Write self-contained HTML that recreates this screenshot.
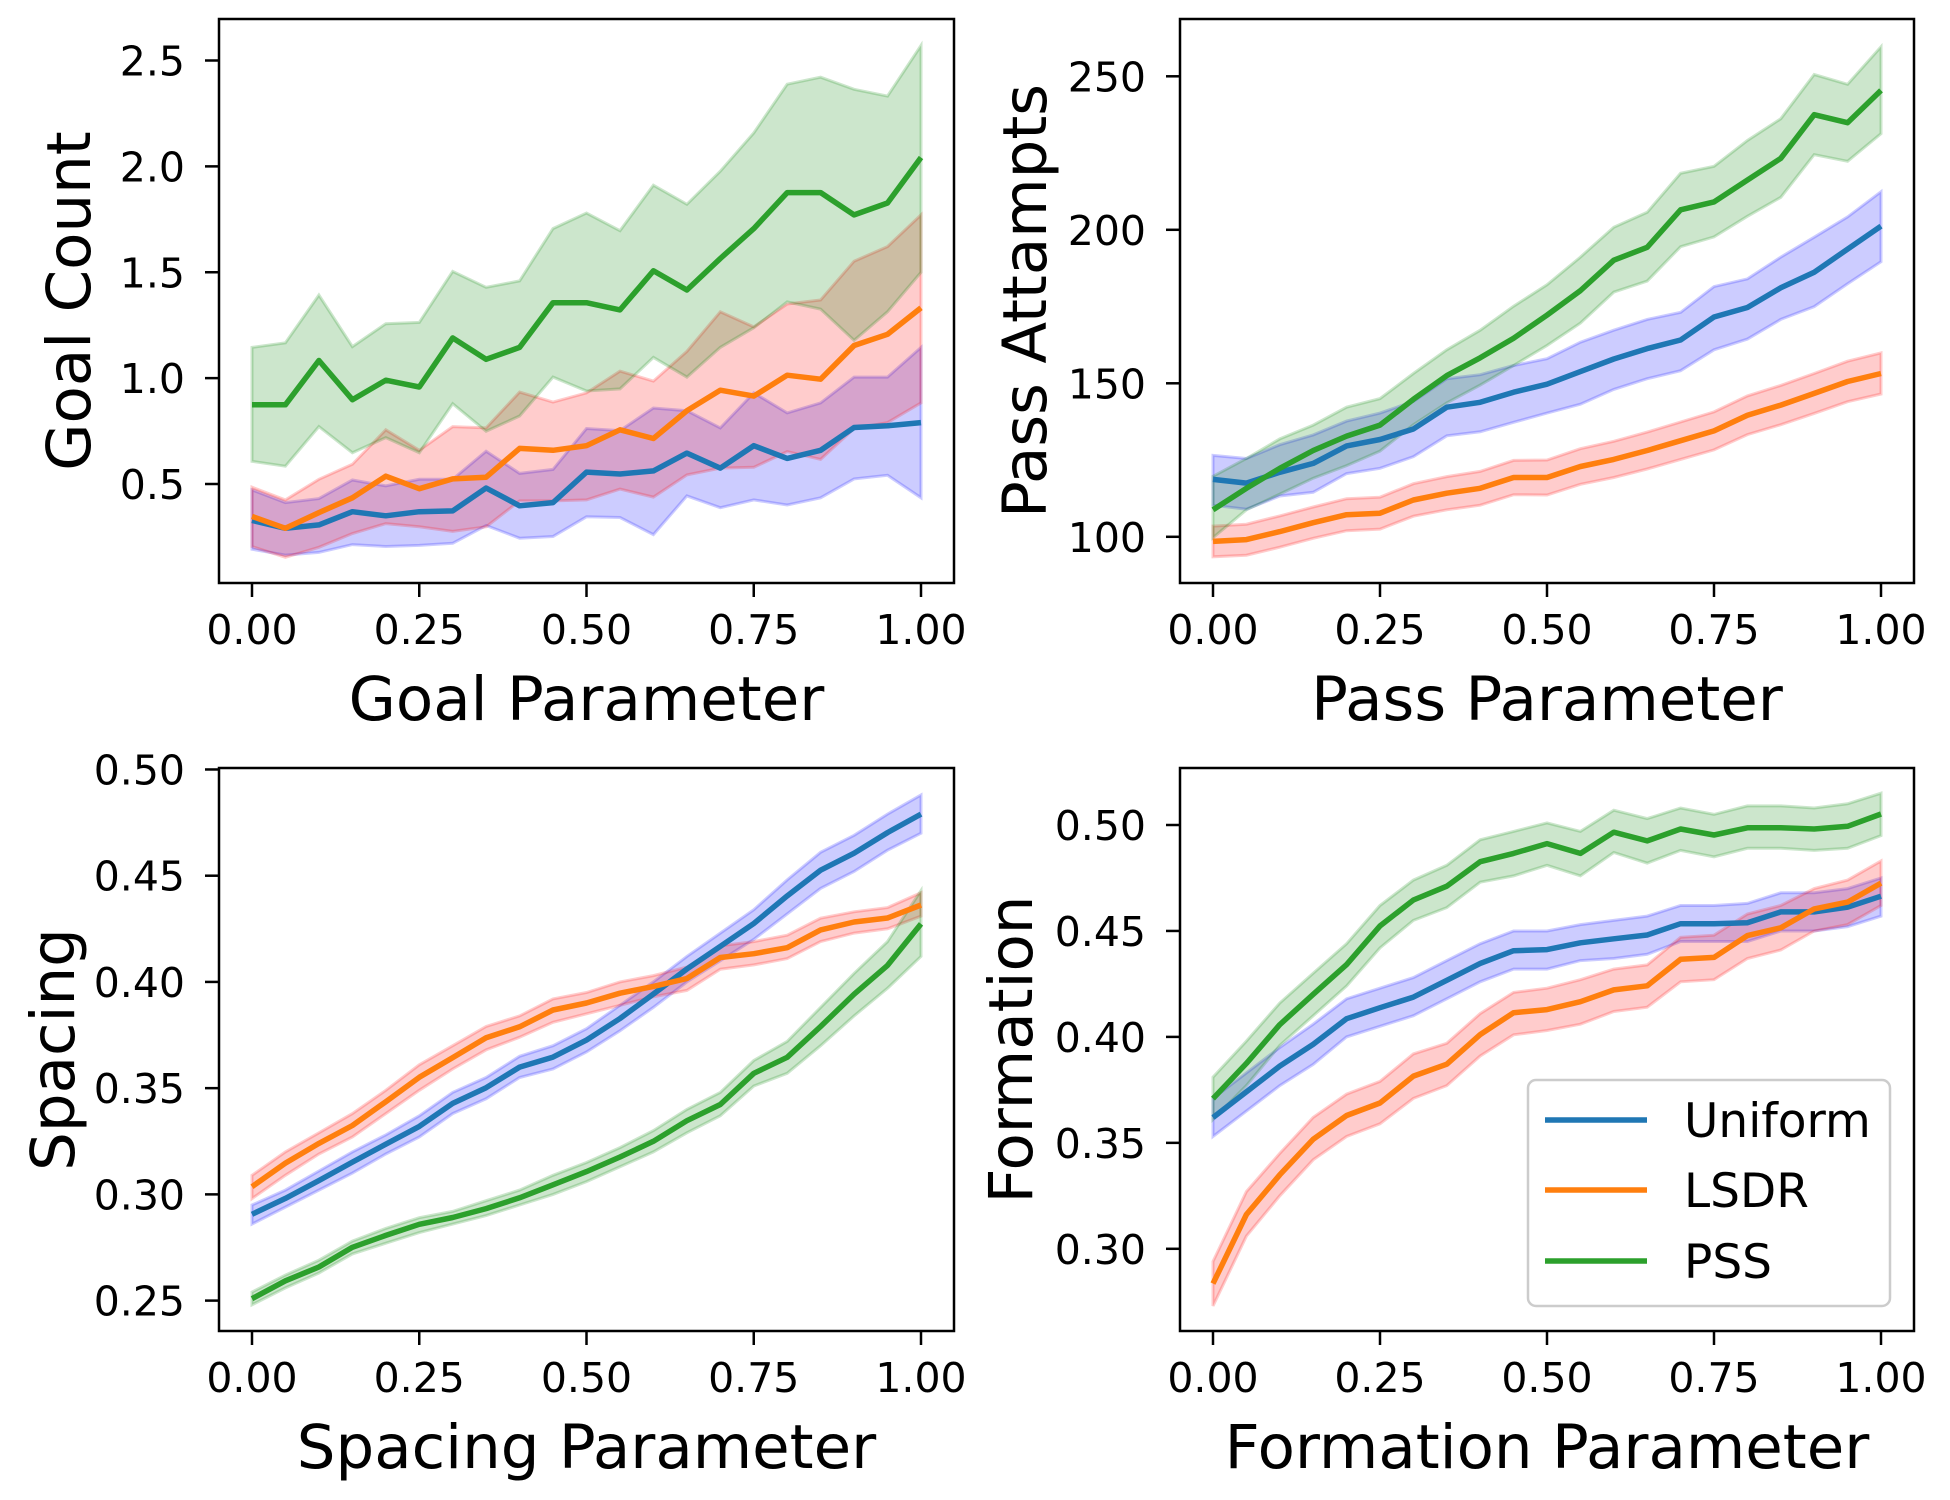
<!DOCTYPE html>
<html><head><meta charset="utf-8"><style>
html,body{margin:0;padding:0;background:#fff;}
svg{display:block;font-family:"DejaVu Sans","Liberation Sans",sans-serif;}
</style></head><body>
<svg id="fig" width="1950" height="1500" viewBox="0 0 1950 1500" xmlns="http://www.w3.org/2000/svg"></svg>
<script>
const xVals=[0,0.05,0.1,0.15,0.2,0.25,0.3,0.35,0.4,0.45,0.5,0.55,0.6,0.65,0.7,0.75,0.8,0.85,0.9,0.95,1.0];
const xTicks=[0,0.25,0.5,0.75,1.0];
const xTickLabels=["0.00","0.25","0.50","0.75","1.00"];
const seriesNames=["Uniform","LSDR","PSS"];

// Panel 1: Goal
const goalUniform=[0.328,0.291,0.307,0.369,0.35,0.369,0.373,0.481,0.397,0.412,0.556,0.547,0.562,0.646,0.575,0.681,0.621,0.659,0.767,0.775,0.79];
const goalUniformHi=[0.472,0.412,0.431,0.519,0.491,0.522,0.522,0.655,0.55,0.569,0.762,0.752,0.859,0.846,0.765,0.93,0.836,0.883,1.005,1.005,1.145];
const goalUniformLo=[0.192,0.164,0.177,0.214,0.205,0.21,0.22,0.304,0.244,0.252,0.345,0.342,0.261,0.444,0.388,0.425,0.401,0.435,0.524,0.541,0.435];
const goalLSDR=[0.347,0.291,0.365,0.435,0.537,0.478,0.524,0.532,0.668,0.659,0.681,0.756,0.715,0.846,0.943,0.915,1.014,0.995,1.154,1.207,1.332];
const goalLSDRHi=[0.485,0.425,0.522,0.593,0.756,0.659,0.771,0.765,0.934,0.887,0.93,1.033,0.986,1.126,1.313,1.242,1.35,1.369,1.552,1.621,1.771];
const goalLSDRLo=[0.205,0.154,0.201,0.266,0.313,0.298,0.276,0.298,0.42,0.42,0.425,0.476,0.438,0.543,0.575,0.579,0.653,0.616,0.762,0.79,0.883];
const goalPSS=[0.874,0.874,1.083,0.898,0.99,0.958,1.19,1.089,1.145,1.356,1.356,1.322,1.507,1.416,1.565,1.706,1.876,1.876,1.771,1.827,2.042];
const goalPSSHi=[1.145,1.167,1.392,1.149,1.257,1.263,1.504,1.429,1.459,1.706,1.78,1.696,1.911,1.821,1.977,2.158,2.388,2.421,2.364,2.332,2.571];
const goalPSSLo=[0.607,0.584,0.771,0.648,0.719,0.648,0.879,0.749,0.821,1.005,0.939,0.949,1.098,1.005,1.145,1.238,1.36,1.326,1.178,1.313,1.5];
const goalTicks=[0.5,1.0,1.5,2.0,2.5];
const goalTickLabels=["0.5","1.0","1.5","2.0","2.5"];

// Panel 2: Pass
const passUniform=[118.7,117.5,121.0,123.9,129.6,131.7,135.1,142.2,143.8,147.1,149.7,153.8,157.9,161.3,164.1,171.6,174.7,181.1,186.2,193.7,201.2];
const passUniformHi=[126.5,125.5,130,133.2,137.7,140.3,144.1,151.5,152.8,155.8,158,163.4,167.3,170.8,173.1,181.5,184,191.1,197.6,204.2,212.4];
const passUniformLo=[110.3,109,113.3,114.5,120.6,122.3,126.1,132.9,134.2,137.3,140.3,143.2,148,151.5,154.1,160.9,164.4,170.8,175,182.4,189.6];
const passLSDR=[98.5,99.1,101.7,104.6,107.2,107.7,112,114.2,115.8,119.3,119.3,122.9,125.2,128.1,131.3,134.5,139.6,142.9,146.7,150.6,153.2];
const passLSDRHi=[103.5,104.1,106.8,109.7,112.4,112.9,117.3,119.6,121.3,124.9,125.0,128.7,131.1,134.1,137.4,140.7,145.9,149.3,153.2,157.2,159.9];
const passLSDRLo=[93.5,94.0,96.6,99.5,102.0,102.5,106.7,108.8,110.3,113.7,113.6,117.1,119.3,122.1,125.2,128.3,133.3,136.5,140.2,144.0,146.5];
const passPSS=[108.8,115.8,122.3,128.1,132.8,136.4,144.8,152.5,158.3,164.7,172.2,180.2,190.1,194.3,206.5,209.1,216.2,223.3,237.5,234.9,245.4];
const passPSSHi=[119.7,125.5,131.9,136.4,142.2,145.0,153.2,160.9,167.3,175.1,182.1,191.1,200.8,205.7,218.4,220.7,229.1,236.2,250.6,247.4,259.6];
const passPSSLo=[99.7,108.8,113.9,119.1,123.2,127.9,136.5,143.6,149.4,155.8,162.3,169.6,179.7,183.3,194.5,197.7,204.4,210.6,224.5,222.3,231.3];
const passTicks=[100,150,200,250];
const passTickLabels=["100","150","200","250"];

// Panel 3: Spacing
const spaceUniform=[0.2906,0.2981,0.3065,0.3152,0.3236,0.3320,0.3428,0.3502,0.3599,0.3646,0.3726,0.3828,0.3943,0.4061,0.4167,0.4275,0.4405,0.4526,0.4606,0.4703,0.4790];
const spaceUniformHi=[0.295,0.302,0.311,0.320,0.328,0.337,0.348,0.355,0.365,0.370,0.378,0.389,0.400,0.412,0.423,0.434,0.448,0.461,0.469,0.479,0.488];
const spaceUniformLo=[0.286,0.294,0.302,0.310,0.319,0.327,0.338,0.345,0.355,0.359,0.367,0.377,0.388,0.400,0.410,0.420,0.432,0.444,0.452,0.462,0.470];
const spaceLSDR=[0.3036,0.3147,0.3240,0.3324,0.3436,0.3551,0.3644,0.3737,0.3789,0.3868,0.3901,0.3947,0.3979,0.4016,0.4115,0.4133,0.4161,0.4245,0.4282,0.4301,0.4362];
const spaceLSDRHi=[0.309,0.320,0.329,0.338,0.349,0.361,0.370,0.379,0.384,0.392,0.395,0.400,0.403,0.407,0.417,0.419,0.422,0.430,0.433,0.435,0.442];
const spaceLSDRLo=[0.298,0.309,0.319,0.327,0.338,0.349,0.359,0.368,0.374,0.381,0.385,0.389,0.393,0.396,0.406,0.408,0.411,0.419,0.423,0.425,0.431];
const spacePSS=[0.2509,0.2593,0.2658,0.2751,0.2807,0.2859,0.2891,0.2933,0.2984,0.3045,0.3107,0.3176,0.3250,0.3347,0.3423,0.3570,0.3645,0.3790,0.3942,0.4078,0.4273];
const spacePSSHi=[0.254,0.262,0.269,0.278,0.284,0.289,0.292,0.297,0.302,0.309,0.315,0.322,0.330,0.340,0.348,0.363,0.372,0.388,0.404,0.419,0.443];
const spacePSSLo=[0.248,0.256,0.263,0.272,0.277,0.282,0.286,0.290,0.295,0.300,0.306,0.313,0.320,0.329,0.337,0.351,0.357,0.370,0.384,0.397,0.412];
const spaceTicks=[0.25,0.30,0.35,0.40,0.45,0.50];
const spaceTickLabels=["0.25","0.30","0.35","0.40","0.45","0.50"];

// Panel 4: Formation
const formUniform=[0.3619,0.3741,0.3862,0.3965,0.4086,0.4138,0.4188,0.4267,0.4347,0.4407,0.4412,0.4444,0.4463,0.4481,0.4534,0.4534,0.4539,0.4590,0.4590,0.4612,0.4664];
const formUniformHi=[0.371,0.383,0.395,0.406,0.418,0.423,0.428,0.436,0.444,0.450,0.450,0.453,0.455,0.457,0.462,0.462,0.463,0.468,0.468,0.470,0.475];
const formUniformLo=[0.353,0.365,0.377,0.387,0.400,0.405,0.410,0.418,0.426,0.432,0.432,0.436,0.437,0.439,0.445,0.445,0.445,0.450,0.450,0.452,0.457];
const formLSDR=[0.2836,0.3162,0.3349,0.3517,0.3629,0.3688,0.3815,0.3871,0.4011,0.4114,0.4129,0.4166,0.4222,0.4241,0.4366,0.4375,0.4478,0.4515,0.4604,0.4636,0.4726];
const formLSDRHi=[0.294,0.327,0.345,0.362,0.373,0.379,0.392,0.397,0.411,0.421,0.423,0.427,0.432,0.434,0.447,0.448,0.458,0.462,0.470,0.474,0.483];
const formLSDRLo=[0.273,0.306,0.325,0.342,0.353,0.359,0.371,0.377,0.391,0.401,0.403,0.406,0.412,0.414,0.426,0.427,0.437,0.441,0.450,0.453,0.462];
const formPSS=[0.3709,0.3875,0.4058,0.4201,0.4341,0.4524,0.4646,0.4711,0.4827,0.4866,0.4912,0.4866,0.4966,0.4925,0.4981,0.4953,0.4987,0.4987,0.4981,0.4994,0.5052];
const formPSSHi=[0.381,0.398,0.416,0.430,0.444,0.462,0.474,0.481,0.493,0.497,0.501,0.497,0.507,0.503,0.508,0.505,0.509,0.509,0.508,0.510,0.515];
const formPSSLo=[0.361,0.377,0.396,0.410,0.424,0.442,0.455,0.461,0.473,0.476,0.481,0.476,0.487,0.482,0.488,0.485,0.489,0.489,0.488,0.489,0.495];
const formTicks=[0.30,0.35,0.40,0.45,0.50];
const formTickLabels=["0.30","0.35","0.40","0.45","0.50"];

const NS="http://www.w3.org/2000/svg";
const svg=document.getElementById('fig');
function mk(tag,attrs,parent){const e=document.createElementNS(NS,tag);for(const k in attrs)e.setAttribute(k,attrs[k]);(parent||svg).appendChild(e);return e;}

const lineColors=["#1f77b4","#ff7f0e","#2ca02c"];
const bandColors=["#0000ff","#ff0000","#008000"];

function panel(cfg){
  const g=mk('g',{});
  
  
  const L=cfg.left,R=cfg.right,T=cfg.top,B=cfg.bottom;
  const x0px=L+33,x1px=R-33;
  const xs=v=>x0px+(v-0)*(x1px-x0px);
  const ys=v=>cfg.y0px+(v-cfg.y0)*(cfg.y1px-cfg.y0px)/(cfg.y1-cfg.y0);
  const clipId='clip-'+cfg.name;
  const cp=mk('clipPath',{id:clipId},g);
  mk('rect',{x:L,y:T,width:R-L,height:B-T},cp);
  const plot=mk('g',{'clip-path':'url(#'+clipId+')'},g);
  cfg.series.forEach((s,i)=>{
    let d='';
    xVals.forEach((x,j)=>{d+=(j?'L':'M')+xs(x).toFixed(1)+','+ys(s.hi[j]).toFixed(1);});
    for(let j=xVals.length-1;j>=0;j--){d+='L'+xs(xVals[j]).toFixed(1)+','+ys(s.lo[j]).toFixed(1);}
    d+='Z';
    const band=mk('path',{d:d,fill:bandColors[i],'fill-opacity':0.2,stroke:bandColors[i],'stroke-opacity':0.2,'stroke-width':3},plot);
    
    
  });
  cfg.series.forEach((s,i)=>{
    const pts=xVals.map((x,j)=>xs(x).toFixed(1)+','+ys(s.mean[j]).toFixed(1)).join(' ');
    const ln=mk('polyline',{points:pts,fill:'none',stroke:lineColors[i],'stroke-width':5.5,'stroke-linejoin':'round'},plot);
    
    
  });
  const frame=mk('rect',{x:L,y:T,width:R-L,height:B-T,fill:'none',stroke:'#000','stroke-width':2.5},g);
  
  
  xTicks.forEach((t,i)=>{
    const x=xs(t);
    mk('line',{x1:x,y1:B,x2:x,y2:B+14,stroke:'#000','stroke-width':2.5},g);
    const tx=mk('text',{x:x,y:B+61,'font-size':41,'text-anchor':'middle',fill:'#000'},g);
    tx.textContent=xTickLabels[i];
    
    
  });
  cfg.yTicks.forEach((t,i)=>{
    const y=ys(t);
    mk('line',{x1:L-14,y1:y,x2:L,y2:y,stroke:'#000','stroke-width':2.5},g);
    const ty=mk('text',{x:L-34,y:y+15,'font-size':41,'text-anchor':'end',fill:'#000'},g);
    ty.textContent=cfg.yTickLabels[i];
    
    
  });
  const xl=mk('text',{x:(L+R)/2,y:B+137,'font-size':61,'text-anchor':'middle',fill:'#000'},g);
  xl.textContent=cfg.xlabel;
  
  
  const cy=(T+B)/2;
  const yl=mk('text',{x:cfg.ylabelX,y:cy,'font-size':61,'text-anchor':'middle',fill:'#000',transform:'rotate(-90 '+cfg.ylabelX+' '+cy+')'},g);
  yl.textContent=cfg.ylabel;
  
  
}

panel({name:'goal-panel',left:219,right:954,top:19,bottom:583,y0:0.5,y1:2.5,y0px:484,y1px:60.5,
  yTicks:goalTicks,yTickLabels:goalTickLabels,xlabel:'Goal Parameter',ylabel:'Goal Count',ylabelX:90,
  series:[{mean:goalUniform,hi:goalUniformHi,lo:goalUniformLo},{mean:goalLSDR,hi:goalLSDRHi,lo:goalLSDRLo},{mean:goalPSS,hi:goalPSSHi,lo:goalPSSLo}]});
panel({name:'pass-panel',left:1180,right:1914,top:19,bottom:583,y0:100,y1:250,y0px:536.8,y1px:76.3,
  yTicks:passTicks,yTickLabels:passTickLabels,xlabel:'Pass Parameter',ylabel:'Pass Attampts',ylabelX:1046,
  series:[{mean:passUniform,hi:passUniformHi,lo:passUniformLo},{mean:passLSDR,hi:passLSDRHi,lo:passLSDRLo},{mean:passPSS,hi:passPSSHi,lo:passPSSLo}]});
panel({name:'spacing-panel',left:219,right:954,top:768,bottom:1331,y0:0.25,y1:0.45,y0px:1300.6,y1px:875.7,
  yTicks:spaceTicks,yTickLabels:spaceTickLabels,xlabel:'Spacing Parameter',ylabel:'Spacing',ylabelX:74,
  series:[{mean:spaceUniform,hi:spaceUniformHi,lo:spaceUniformLo},{mean:spaceLSDR,hi:spaceLSDRHi,lo:spaceLSDRLo},{mean:spacePSS,hi:spacePSSHi,lo:spacePSSLo}]});
panel({name:'formation-panel',left:1180,right:1914,top:768,bottom:1331,y0:0.30,y1:0.50,y0px:1248.8,y1px:825,
  yTicks:formTicks,yTickLabels:formTickLabels,xlabel:'Formation Parameter',ylabel:'Formation',ylabelX:1032,
  series:[{mean:formUniform,hi:formUniformHi,lo:formUniformLo},{mean:formLSDR,hi:formLSDRHi,lo:formLSDRLo},{mean:formPSS,hi:formPSSHi,lo:formPSSLo}]});

// legend
const lg=mk('g',{});


mk('rect',{x:1528,y:1080,width:362,height:226,rx:8,fill:'#fff','fill-opacity':0.8,stroke:'#cccccc','stroke-width':2.5},lg);
const legY=[1120,1190,1261];
seriesNames.forEach((n,i)=>{
  const ln=mk('line',{x1:1545,y1:legY[i],x2:1647,y2:legY[i],stroke:lineColors[i],'stroke-width':5.5},lg);
  
  
  const t=mk('text',{x:1684,y:legY[i]+17,'font-size':47,fill:'#000'},lg);
  t.textContent=n;
  
  
});
</script>
</body></html>
